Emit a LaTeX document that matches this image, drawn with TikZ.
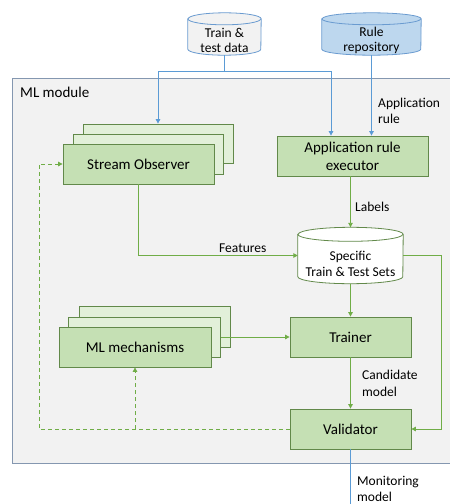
\documentclass[tikz,border=0pt]{standalone}
\usepackage{fontspec}
\setmainfont{Carlito}
\usetikzlibrary{arrows.meta}
\definecolor{boxfill}{HTML}{C5E0B4}
\definecolor{boxback}{HTML}{E2F0D9}
\definecolor{boxline}{HTML}{62894A}
\definecolor{flowgreen}{HTML}{70AD47}
\definecolor{flowblue}{HTML}{5B9BD5}
\definecolor{modfill}{HTML}{F2F2F2}
\definecolor{modline}{HTML}{8497B0}
\definecolor{repofill}{HTML}{BDD7EE}
\definecolor{cylline}{HTML}{6A9BD0}
\tikzset{
  boxtext/.style={font=\fontsize{15}{18}\selectfont},
  labeltext/.style={font=\fontsize{13.5}{16.5}\selectfont, align=left, anchor=west, inner sep=0pt},
  box/.style={draw=boxline, fill=boxfill, line width=0.8pt, rectangle, align=center, inner sep=2pt, boxtext},
  backbox/.style={box, fill=boxback},
  storeframe/.style={rectangle, inner sep=0pt},
  storetext/.style={font=\fontsize{13.5}{15.5}\selectfont, align=center, inner sep=0pt},
  module/.style={draw=modline, fill=modfill, line width=0.9pt, rectangle, inner sep=0pt},
  tip/.style={-{Triangle[length=4.5pt,width=4.5pt]}},
  greenflow/.style={tip, draw=flowgreen, line width=0.9pt},
  blueflow/.style={tip, draw=flowblue, line width=0.9pt},
  feedback/.style={greenflow, dash pattern=on 4pt off 3pt},
}
% drum outline round a rectangular node: #1 node, #2 half width, #3 cap radius, #4 fill, #5 line
\newcommand{\drumshape}[5]{%
  \path[fill=#4, draw=#5, line width=0.8pt]
    ([yshift=-#3]#1.north west) -- ([yshift=#3]#1.south west)
    arc[start angle=180, end angle=360, x radius=#2, y radius=#3]
    -- ([yshift=-#3]#1.north east)
    arc[start angle=0, end angle=180, x radius=#2, y radius=#3] -- cycle;
  \draw[draw=#5, line width=0.8pt] ([yshift=-#3]#1.north west)
    arc[start angle=180, end angle=360, x radius=#2, y radius=#3];
}
\begin{document}
\begin{tikzpicture}[x=1pt,y=-1pt]
\useasboundingbox (0,0) rectangle (450,504);

% module frame
\node[module, anchor=north west, minimum width=445pt, minimum height=385pt] (mod) at (12,78) {};
\node[labeltext, font=\fontsize{15}{18}\selectfont] (modlabel) at (20,92) {ML module};

% data stores
\node[storeframe, minimum width=73pt, minimum height=42pt] (train) at (224.5,34) {};
\drumshape{train}{36.5pt}{6pt}{modfill}{cylline}
\node[storetext] (traintext) at (224.5,40.5) {Train \&\\test data};

\node[storeframe, minimum width=99pt, minimum height=42pt] (rule) at (371.5,34) {};
\drumshape{rule}{49.5pt}{6pt}{repofill}{cylline}
\node[storetext] (ruletext) at (371.5,40.5) {Rule\\repository};

\node[storeframe, minimum width=105pt, minimum height=56pt] (spec) at (350.5,255.5) {};
\drumshape{spec}{52.5pt}{7pt}{white}{boxline}
\node[storetext] (spectext) at (350.5,264) {Specific\\Train \& Test Sets};

% stream observer stack
\node[backbox, minimum width=150pt, minimum height=39pt] (so3) at (158,143.5) {};
\node[backbox, minimum width=150pt, minimum height=40pt] (so2) at (148,154) {};
\node[box, minimum width=151pt, minimum height=40pt] (so) at (138.5,164) {Stream Observer};

% rule executor
\node[box, minimum width=151pt, minimum height=40pt] (are) at (352.5,156) {Application rule\\executor};

% ML mechanisms stack
\node[backbox, minimum width=151pt, minimum height=41pt] (mm3) at (154.5,326.5) {};
\node[backbox, minimum width=152pt, minimum height=40pt] (mm2) at (144.5,337) {};
\node[box, minimum width=152pt, minimum height=40pt] (mm) at (135,347) {ML mechanisms};

% trainer and validator
\node[box, minimum width=121pt, minimum height=40pt] (trainer) at (350.5,337) {Trainer};
\node[box, minimum width=121pt, minimum height=40pt] (val) at (350.5,429) {Validator};

% inputs from the stores
\coordinate (split) at (224.5,71);
\draw[blueflow, -] (train.south) -- (split);
\draw[blueflow] (split) -| (so3.north);
\draw[blueflow] (split) -| ([xshift=-21.5pt]are.north);
\draw[blueflow] (rule.south) -- (rule.south |- are.north);
\node[labeltext] (apprule) at (378,111) {Application\\rule};

% main flow
\draw[greenflow] (spec.north |- are.south) -- (spec.north);
\node[labeltext] (labels) at (355,207) {Labels};
\draw[greenflow] (so.south) |- (spec.west);
\node[labeltext] (features) at (219,248) {Features};
\draw[greenflow] (spec.south) -- (trainer.north);
\draw[greenflow] (mm2.east) -- (trainer.west);
\draw[greenflow] (trainer.south) -- (val.north);
\node[labeltext] (cand) at (362,383.5) {Candidate\\model};
\coordinate (loopright) at (441,255.5);
\draw[greenflow] (spec.east) -- (loopright) |- (val.east);

% feedback loops
\coordinate (loopleft) at (39,429);
\draw[feedback] (val.west) -- (loopleft) |- (so.west);
\draw[feedback] (mm.south |- val.west) -- (mm.south);

% output
\coordinate (out) at (350.5,510);
\draw[blueflow, -] (val.south) -- (out);
\node[labeltext] (monitor) at (357,489) {Monitoring\\model};
\end{tikzpicture}
\end{document}
